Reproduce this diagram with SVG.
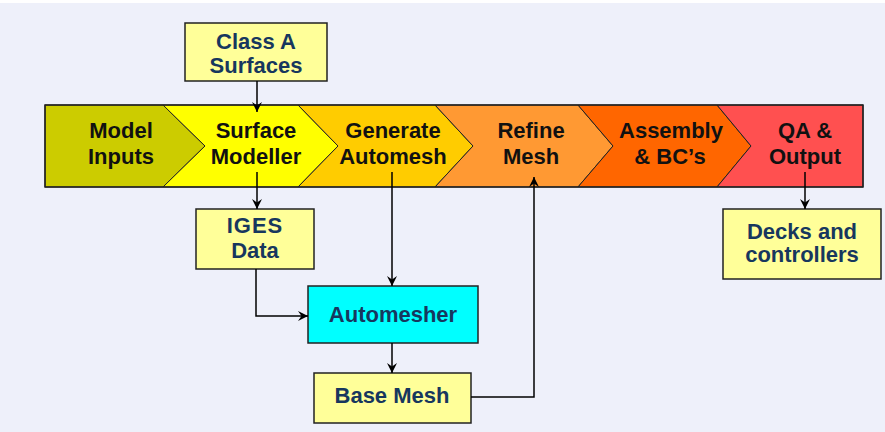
<svg xmlns="http://www.w3.org/2000/svg" width="885" height="432" viewBox="0 0 885 432">
<defs>
<marker id="arr" markerWidth="10" markerHeight="10" refX="10" refY="5" orient="auto" markerUnits="userSpaceOnUse">
<path d="M0,0 L10,5 L0,10 L3.5,5 z" fill="#000"/>
</marker>
<style>
.band{stroke:#222;stroke-width:1;stroke-linejoin:miter}
.bt{font-family:"Liberation Sans",Arial,sans-serif;font-weight:bold;font-size:22px;fill:#111;text-anchor:middle}
.box{fill:#FFFF99;stroke:#222;stroke-width:1.5}
.bx{font-family:"Liberation Sans",Arial,sans-serif;font-weight:bold;font-size:22px;fill:#17375E;text-anchor:middle}
.conn{fill:none;stroke:#000;stroke-width:1.5;marker-end:url(#arr)}
</style>
</defs>
<rect x="0" y="0" width="885" height="432" fill="#EEF0FA"/>
<rect x="0" y="0" width="885" height="3" fill="#FFFFFF"/>

<g id="band">
<g id="model-inputs">
<polygon class="band" points="45,105 163,105 205,146 163,187 45,187" fill="#CCCC00"/>
<text class="bt" x="121" y="138">Model</text>
<text class="bt" x="121" y="164">Inputs</text>
</g>
<g id="surface-modeller">
<polygon class="band" points="163,105 298,105 338,146 298,187 163,187 205,146" fill="#FFFF00"/>
<text class="bt" x="256" y="138">Surface</text>
<text class="bt" x="256" y="164">Modeller</text>
</g>
<g id="generate-automesh">
<polygon class="band" points="298,105 435,105 473,146 435,187 298,187 338,146" fill="#FFCC00"/>
<text class="bt" x="393" y="138">Generate</text>
<text class="bt" x="393" y="164">Automesh</text>
</g>
<g id="refine-mesh">
<polygon class="band" points="435,105 578,105 613,146 578,187 435,187 473,146" fill="#FF9933"/>
<text class="bt" x="531" y="138">Refine</text>
<text class="bt" x="531" y="164">Mesh</text>
</g>
<g id="assembly">
<polygon class="band" points="578,105 717,105 751,146 717,187 578,187 613,146" fill="#FF6600"/>
<text class="bt" x="671" y="138">Assembly</text>
<text class="bt" x="670" y="164">&amp; BC’s</text>
</g>
<g id="qa-output">
<polygon class="band" points="717,105 863,105 863,187 717,187 751,146" fill="#FF5050"/>
<text class="bt" x="805" y="138">QA &amp;</text>
<text class="bt" x="805" y="164">Output</text>
</g>
<rect x="45" y="105" width="818" height="82" fill="none" stroke="#222" stroke-width="1.5"/>
</g>

<g id="class-a">
<rect class="box" x="185" y="23" width="142" height="58"/>
<text class="bx" x="256" y="49">Class A</text>
<text class="bx" x="256" y="73">Surfaces</text>
</g>
<g id="iges">
<rect class="box" x="196" y="209" width="118" height="60"/>
<text class="bx" x="255" y="233" letter-spacing="1">IGES</text>
<text class="bx" x="255" y="258">Data</text>
</g>
<g id="automesher">
<rect x="308" y="286" width="170" height="57" fill="#00FFFF" stroke="#222" stroke-width="1.5"/>
<text class="bx" x="393" y="322">Automesher</text>
</g>
<g id="base-mesh">
<rect class="box" x="314" y="373" width="157" height="50"/>
<text class="bx" x="392" y="403">Base Mesh</text>
</g>
<g id="decks">
<rect class="box" x="723" y="209" width="158" height="70"/>
<text class="bx" x="802" y="239">Decks and</text>
<text class="bx" x="802" y="262">controllers</text>
</g>

<g id="connectors">
<path class="conn" d="M257,81 L257,112"/>
<path class="conn" d="M257,172 L257,209"/>
<path class="conn" d="M392,172 L392,286"/>
<path class="conn" d="M256,269 L256,316 L308,316"/>
<path class="conn" d="M392,343 L392,373"/>
<path class="conn" d="M471,397 L534,397 L534,177"/>
<path class="conn" d="M805,172 L805,209"/>
</g>
</svg>
